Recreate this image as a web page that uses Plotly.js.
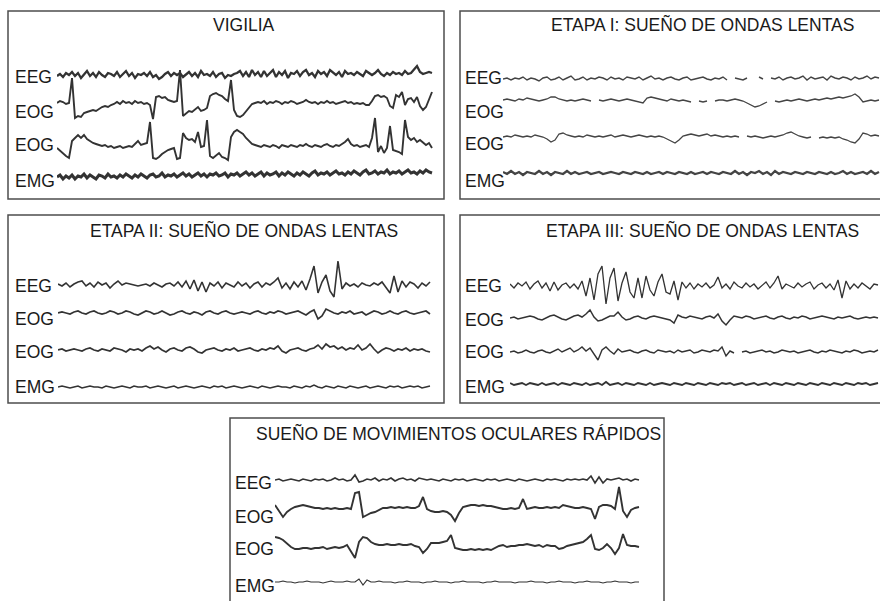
<!DOCTYPE html>
<html>
<head>
<meta charset="utf-8">
<script src="https://cdn.plot.ly/plotly-3.0.1.min.js"></script>
<style>html,body{margin:0;padding:0;background:#fff;}#chart{width:880px;height:601px;}</style>
</head>
<body>
<div id="chart"></div>
<script>
// ---------------- DATA (signal amplitudes, upward deflection positive) ----------------
const panelTitles = ['VIGILIA', 'ETAPA I: SUEÑO DE ONDAS LENTAS', 'ETAPA II: SUEÑO DE ONDAS LENTAS',
  'ETAPA III: SUEÑO DE ONDAS LENTAS', 'SUEÑO DE MOVIMIENTOS OCULARES RÁPIDOS'];
const channelLabels = ['EEG', 'EOG', 'EOG', 'EMG'];

// Vigilia
const vig_EEG = [-1,1,-2,2,0,3,-1,2,-3,1,4,-1,2,-2,3,0,-2,2,1,-1,
  3,-2,1,4,-1,2,-3,1,0,2,-1,3,-2,0,-4,-2,1,3,-1,2,
  0,2,-2,1,3,-1,2,-2,4,0,1,-1,3,-2,1,2,-3,0,-1,1,
  2,4,-1,3,-2,5,0,3,-2,4,-1,2,5,-2,3,0,4,-3,2,1,
  4,-1,3,5,0,2,-2,4,1,3,-1,5,2,0,3,-2,4,1,2,0,
  3,1,-1,4,2,0,2,5,1,-1,2,0,3,1,2,0,4,1,2,6,9,3,1,2,3,2];
const vig_EOG1 = [0,2,1,-1,0,25,-15,-13,-14,-10,
  -9,-8,-7,-8,-6,-4,-3,-4,-2,-1,
  1,-1,2,0,1,-1,2,0,1,-1,
  0,-2,-16,6,7,5,6,3,2,1,
  2,33,-13,-10,-8,-9,-6,-4,-8,-7,
  -5,7,9,10,8,7,4,2,23,-7,
  -13,-14,-12,-8,-4,-1,0,1,0,2,
  -1,1,0,2,1,-1,1,0,2,1,
  -1,0,1,3,1,0,1,-1,1,0,
  2,0,1,-1,0,1,2,0,1,-1,
  0,-1,0,-2,-2,2,7,8,6,7,
  5,-3,-5,8,6,11,-2,4,5,1,
  6,-3,-7,-4,3,11];
const vig_EOG2 = [-2,-5,-8,-10,-12,5,8,11,8,11,
  7,5,3,2,1,0,1,-1,0,-2,
  -1,0,-2,-1,0,-1,2,5,1,2,
  3,24,-12,-13,-11,-8,-6,-4,-3,-2,
  -13,-12,13,8,6,7,4,14,-1,0,
  26,-10,-12,-9,-7,-11,-12,-14,9,14,
  16,14,12,8,5,2,1,0,-1,1,
  0,-1,1,0,-2,1,0,-1,1,0,
  -1,1,0,2,0,-1,1,0,-1,1,
  2,0,-1,1,0,2,4,7,2,0,
  1,-1,0,1,-1,8,28,-6,0,-7,
  -2,20,-4,-5,-6,-8,26,9,6,8,
  4,6,3,1,3,-2];
const vig_EMG = [-2,0,-4,-1,-3,0,-4,-1,-2,1,-3,0,-2,-4,0,-1,-3,1,-2,-1,
  -3,0,-2,1,-1,-3,0,-2,1,-1,-3,0,1,-2,-1,2,-2,0,-1,1,
  -2,0,2,-1,1,-2,0,2,-1,1,-2,1,0,2,-1,0,2,-2,1,0,
  2,-1,1,3,0,2,-1,1,3,-1,2,0,1,3,-1,2,0,3,1,-1,
  2,0,3,1,-1,2,4,0,2,1,3,0,2,4,1,2,0,3,1,4,
  2,0,3,5,1,2,4,1,3,2,5,1,3,2,4,1,3,5,2,3,1,4,2,5,3,2];

// Etapa I
const et1_EEG = [0,1,-1,1,0,2,-1,1,0,-2, 1,2,-1,0,2,-1,1,3,-1,0,
  2,-1,1,0,2,1,-1,2,0,1, -1,2,1,0,2,-1,1,3,0,1,
  -1,1,2,0,-1,1,2,-1,0,1, 2,0,-1,1,0,2,-1,null,1,0,
  -1,1,null,null,2,0,null,1,0,2, -1,1,2,0,1,3,-1,2,0,1,
  2,-1,3,1,0,2,1,-1,2,0, 1,3,0,2,1];
const et1_EOG1 = [0,1,0,-1,1,0,2,1,0,-1, 0,1,3,3,1,0,-1,0,-1,0,
  1,0,-1,null,0,-1,0,1,0,-1, 0,1,0,-1,-2,-3,2,3,2,1,
  0,-1,1,0,-1,0,-1,-2,null,-1, -2,-1,null,-1,0,0,-1,0,1,0,
  -1,-3,-5,-7,-6,-4,-2,null,-1,-2, -1,0,-1,0,1,0,-1,0,1,0,
  1,2,1,2,3,2,3,4,6,3, -2,-1,0,-1,0];
const et1_EOG2 = [0,1,0,2,1,0,1,0,2,1, 0,-2,-5,-3,3,4,2,1,0,1,
  0,2,1,0,1,0,1,2,0,1, 2,1,0,1,2,1,0,1,0,1,
  0,-2,-4,-6,-3,1,2,3,2,1, 2,3,1,2,1,0,1,0,1,0,
  null,1,0,1,0,-1,0,1,0,1, 2,4,5,3,1,0,-1,0,null,-1,
  0,-1,0,-1,0,-2,-3,-5,-6,-2, 4,3,1,2,1];
const et1_EMG = [1,-1,2,-1,1,-2,1,0,-1,2, -1,1,-2,1,0,-1,2,-1,1,-1,
  0,1,-1,0,1,-1,0,1,0,-1, 1,0,-1,1,0,-1,1,-1,0,1,
  -1,1,0,-1,1,0,-1,1,-1,0, 1,-1,1,0,-1,1,0,-1,2,-1,
  1,-2,1,0,2,-1,1,-2,2,-1, 1,0,-1,1,0,-1,1,0,-1,1,
  0,-1,1,-1,0,2,-1,1,-1,0, 1,-1,2,-1,1];

// Etapa II
const et2_EEG = [1,-1,2,-2,1,3,4,-1,2,-2, 3,0,2,-3,1,4,0,2,1,0,
  -1,0,1,-1,2,0,-2,1,2,-1, 3,-2,4,-4,5,-6,3,-7,2,-1,
  3,-3,2,0,-2,3,-1,2,-3,1, 3,-2,2,0,3,7,-3,2,-4,3,
  -2,4,-5,6,19,-8,3,10,-6,-12, 24,-4,2,-1,1,-2,2,0,-1,2,
  0,3,-2,-8,9,-7,4,-2,3,1, -3,2,-1,3];
const et2_EOG1 = [0,1,0,-1,1,2,0,-1,1,2, 0,-1,0,2,1,-1,0,2,1,-1,
  -2,0,2,1,-1,0,2,0,-2,-1, 1,2,0,-1,1,0,-2,1,2,0,
  -1,1,2,0,-1,0,1,0,-1,1, 2,0,-1,1,0,2,1,-1,0,1,
  2,0,-2,1,3,-6,-3,4,2,0, -1,1,0,2,-1,0,1,-2,0,2,
  1,-1,0,2,0,-1,1,2,0,-1, 0,1,2,-1];
const et2_EOG2 = [0,1,-1,0,1,0,-1,1,2,0, -1,1,0,-1,2,1,0,-2,1,0,
  1,-1,2,4,1,3,0,-2,1,2, 0,-1,2,3,1,-2,-3,0,1,2,
  0,-1,1,0,2,-1,0,1,2,0, -1,1,0,2,1,4,-1,-3,0,1,
  2,0,-1,1,2,5,1,6,3,4, 1,3,0,2,1,5,0,2,6,1,
  -3,0,2,1,-1,1,0,2,-1,1, 0,1,-1,-2];
const et2_EMG = [0,1,0,-1,0,1,-1,0,1,0, 0,-1,1,0,-1,0,1,0,-1,1,
  0,0,1,-1,0,1,0,-1,0,1, -1,0,1,0,-1,0,1,0,-1,1,
  0,1,-1,0,1,0,-1,0,1,0, -1,1,0,-1,0,1,0,0,-1,1,
  0,-1,1,0,2,0,-1,1,0,-1, 1,0,-1,1,0,-1,0,1,-1,0,
  1,0,-1,1,0,1,-1,0,1,0, 1,-1,0,1];

// Etapa III
const et3_EEG = [2,-2,3,0,4,-3,2,5,-2,3, -5,4,-4,1,3,-2,2,-3,5,-10,
  8,-14,12,20,-18,8,18,-15,3,14, -6,-12,8,-12,10,-4,-10,4,12,-6,
  -8,5,-14,4,-2,3,-3,2,-1,3, -2,1,9,-2,2,-3,4,0,-2,3,
  -1,2,-3,1,4,-2,3,10,-3,2, 0,-2,3,-1,2,4,-3,1,3,-2,
  2,-4,6,-12,5,-3,2,-2,3,0, -3,2,1];
const et3_EOG1 = [0,1,-1,0,1,2,1,-1,-2,0, 2,3,1,-1,-2,0,2,3,1,4,
  8,1,-3,-2,0,2,2,6,1,-2, -1,1,2,0,-1,1,2,1,0,-1,
  -2,-5,3,1,0,2,1,0,-1,1, 2,0,4,-3,-7,-2,2,1,0,2,
  1,-1,0,1,2,0,-1,1,2,0, -1,1,0,2,1,-1,0,1,2,1,
  0,-1,1,0,1,2,0,-1,0,1, 0,1,0];
const et3_EOG2 = [0,1,-1,0,2,0,-1,1,2,0, -1,1,3,0,2,4,0,2,5,1,
  4,-2,-8,2,5,1,-2,3,0,1, 2,0,-1,1,2,0,-1,2,1,0,
  1,-1,2,0,1,2,-1,0,2,1, 0,2,1,5,-4,1,-1,null,0,1,
  -1,0,1,2,0,1,-1,0,2,1, 0,1,-1,0,1,2,0,-1,1,0,
  2,1,0,-1,1,0,2,1,-1,0, 1,0,2];
const et3_EMG = [1,-1,0,1,-1,1,0,-1,1,-1, 0,1,-1,1,0,-1,1,0,-1,1,
  -1,0,1,-1,2,-1,0,1,-1,1, 0,-1,1,0,-1,1,-1,0,1,0,
  -1,1,0,-1,1,0,-1,1,0,-1, 1,0,-1,1,0,1,-1,0,1,-1,
  0,1,-1,0,1,-1,1,0,-1,1, 0,-1,1,0,-1,1,0,-1,1,0,
  -1,1,0,-1,1,0,-1,1,0,1, -1,0,1];

// Sueño MOR
const mor_EEG = [0,1,-1,0,1,0,-1,1,0,-1, 1,0,1,-1,0,2,0,1,-1,0,
  5,-2,-1,1,0,2,-1,1,0,2, -1,1,2,0,1,-1,2,1,0,1,
  0,-1,1,0,-1,1,0,1,-1,0, 1,0,-1,1,0,1,-1,0,1,0,
  -1,1,0,-1,0,1,0,-1,1,0, 1,0,-1,1,0,1,0,1,0,4,
  -3,3,-3,1,0,1,2,0,1,-1,1,0];
const mor_EOG1 = [2,-4,-10,-5,-2,0,1,2,1,0, -1,-1,-2,-1,-2,-1,-2,-2,-1,-2,
  14,15,-10,-8,-6,-5,-3,-1,-1,0, -1,0,-1,0,-1,-1,1,10,-2,-4,
  -5,-5,-4,-5,-8,-14,-6,0,1,2, 2,1,2,1,1,0,-1,-2,-2,-1,
  -2,-1,8,-2,-1,0,-1,-1,0,-1, 0,-1,2,1,0,-1,-1,0,-1,-2,
  -12,0,2,2,1,-2,20,-4,-10,-3, -1,0];
const mor_EOG2 = [8,7,5,1,-2,-4,-4,-3,-3,-4, -3,-3,-2,-4,-3,-2,-3,-2,0,-6,
  -13,3,8,7,3,1,0,0,1,0, 0,1,0,0,1,-1,-2,-8,-4,2,
  2,2,3,4,10,-3,-4,-5,-5,-4, -5,-4,-5,-4,-5,-3,-1,0,-2,-1,
  -1,0,0,1,0,-1,0,-2,0,-1, -1,-4,-3,-1,0,1,2,3,6,10,
  -4,-5,-3,1,-3,-9,-3,11,0,-1, -1,-2];
const mor_EMG = [0,0,1,0,0,-1,0,0,1,0, 0,0,-1,0,1,0,0,0,1,0,
  0,3,-3,2,0,0,1,0,0,0, -1,0,0,1,0,0,0,-1,0,0,
  1,0,0,0,-1,0,0,1,0,0, 0,0,-1,0,0,1,0,0,0,0,
  -1,0,0,0,1,0,0,0,-1,0, 0,1,0,0,0,-1,0,0,1,0,
  0,0,-1,0,0,1,0,0,0,-1, 0,0];

// ---------------- LAYOUT (pixel geometry of the figure) ----------------
const W = 880, H = 601;
const panels = [
  {series:[vig_EEG,vig_EOG1,vig_EOG2,vig_EMG], box:[8,11,444,199], tx:57, dt:3,
   base:[75,103,146,175], labX:13, labY:[77,112,145,181], title:[244,25],
   widths:[2.3,1.9,1.9,3], color:'#333333'},
  {series:[et1_EEG,et1_EOG1,et1_EOG2,et1_EMG], box:[460,11,886,199], tx:503, dt:4,
   base:[79,100,137,173], labX:463, labY:[78,112,144,181], title:[702,25],
   widths:[1.4,1.3,1.3,2.3], color:'#444444'},
  {series:[et2_EEG,et2_EOG1,et2_EOG2,et2_EMG], box:[8,215,444,403], tx:58, dt:4,
   base:[285,313,350,387], labX:13, labY:[286,319,352,387], title:[244,230],
   widths:[1.6,1.7,1.7,1.4], color:'#333333'},
  {series:[et3_EEG,et3_EOG1,et3_EOG2,et3_EMG], box:[460,215,886,403], tx:510, dt:4,
   base:[286,318,352,384], labX:463, labY:[286,320,352,387], title:[702,230],
   widths:[1.3,1.5,1.4,1.9], color:'#333333'},
  {series:[mor_EEG,mor_EOG1,mor_EOG2,mor_EMG], box:[230,418,664,612], tx:275, dt:4,
   base:[480,507,545,582], labX:233, labY:[483,517,549,586], title:[458,433],
   widths:[1.6,1.9,1.9,1.2], color:'#333333'}
];

const FONT = 'Liberation Sans, Arial, Helvetica, sans-serif';
const traces = [];
const layout = {
  width: W, height: H, margin:{l:0,r:0,t:0,b:0}, showlegend:false,
  paper_bgcolor:'#ffffff', plot_bgcolor:'rgba(0,0,0,0)',
  shapes: [], annotations: []
};

panels.forEach((p, k) => {
  const sx = k === 0 ? '' : String(k + 1);
  const xa = 'x' + sx, ya = 'y' + sx;
  const top = p.box[1], bottom = Math.min(p.box[3], H);
  const xEnd = Math.min(p.box[2] - 6, W);
  layout['xaxis' + sx] = {domain:[p.tx / W, xEnd / W], range:[0, xEnd - p.tx], visible:false, fixedrange:true, anchor: ya};
  layout['yaxis' + sx] = {domain:[(H - bottom) / H, (H - top) / H], range:[-(bottom - top), 0], visible:false, fixedrange:true, anchor: xa};
  p.series.forEach((vals, c) => {
    const off = -(p.base[c] - top);
    traces.push({
      type:'scatter', mode:'lines', xaxis:xa, yaxis:ya, hoverinfo:'skip',
      x: vals.map((_, i) => i * p.dt),
      y: vals.map(v => v === null ? null : off + v),
      connectgaps:false,
      line:{color:p.color, width:p.widths[c], shape:'linear'}
    });
    layout.annotations.push({
      xref:'paper', yref:'paper', x:p.labX / W, y:(H - p.labY[c]) / H,
      xanchor:'left', yanchor:'middle', showarrow:false, text:channelLabels[c],
      font:{family:FONT, size:17.5, color:'#1a1a1a'}
    });
  });
  layout.annotations.push({
    xref:'paper', yref:'paper', x:p.title[0] / W, y:(H - p.title[1]) / H,
    xanchor:'center', yanchor:'middle', showarrow:false, text:panelTitles[k],
    font:{family:FONT, size:17.5, color:'#1a1a1a'}
  });
  layout.shapes.push({
    type:'rect', xref:'paper', yref:'paper',
    x0:p.box[0] / W, x1:p.box[2] / W, y0:(H - p.box[3]) / H, y1:(H - p.box[1]) / H,
    line:{color:'#4d4d4d', width:1.5}, fillcolor:'rgba(0,0,0,0)', layer:'below'
  });
});

Plotly.newPlot('chart', traces, layout, {staticPlot:true, displayModeBar:false});
</script>
</body>
</html>
